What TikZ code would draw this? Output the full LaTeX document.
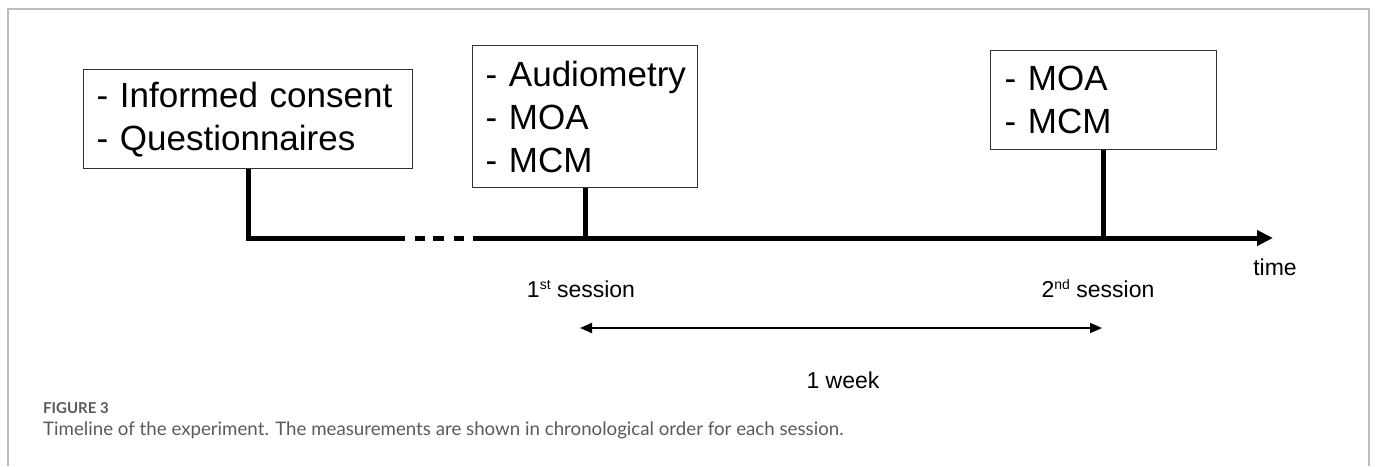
\documentclass[tikz,border=0pt]{standalone}
\usepackage{fontspec}
\setmainfont{Liberation Sans}
\newfontfamily\capfont{Lato}
\usetikzlibrary{arrows.meta}
\definecolor{framegray}{HTML}{BDBDBD}
\definecolor{capgray}{HTML}{5A5A5A}
\definecolor{boxline}{HTML}{333333}
\newcommand{\ordsup}[1]{\raisebox{7.5pt}{\fontsize{14}{14}\selectfont #1}}
\begin{document}
\begin{tikzpicture}[x=1pt,y=1pt,
  box/.style={draw=boxline, line width=1.3pt, fill=white, align=left,
    inner xsep=13pt, inner ysep=0pt, anchor=north west,
    font=\fontsize{35}{43}\selectfont},
  stem/.style={line width=5pt, line cap=butt},
  lbl/.style={font=\fontsize{23}{27}\selectfont, anchor=base},
  captxt/.style={anchor=base west, inner sep=0pt, text=capgray}]
\useasboundingbox (0,0) rectangle (1375,-466);
% outer frame
\draw[framegray, line width=2pt] (8,-466) -- (8,-9) -- (1369,-9) -- (1369,-466);
% boxes
\node[box, text width=303pt, minimum height=99pt] (b1) at (83,-69)
  {- Informed consent\\- Questionnaires};
\node[box, text width=199pt, minimum height=142pt] (b2) at (472,-45)
  {\mbox{- Audiometry}\\- MOA\\- MCM};
\node[box, text width=198pt, inner xsep=14pt, minimum height=99pt] (b3) at (990,-50)
  {- MOA\\- MCM};
% timeline
\coordinate (t0) at (b1.south |- 0,-238);
\coordinate (g1) at (405,-238);
\coordinate (g2) at (473,-238);
\coordinate (tend) at (1273,-238);
\draw[stem, line join=miter] (b1.south) -- (t0) -- (g1);
\draw[stem] (415,-238) -- (425,-238);
\draw[stem] (433,-238) -- (444,-238);
\draw[stem] (454,-238) -- (464,-238);
\draw[stem, -{Triangle[length=16pt,width=15pt]}] (g2) -- (tend);
\draw[stem] (b2.south) -- (b2.south |- t0);
\draw[stem] (b3.south) -- (b3.south |- t0);
% labels
\node[lbl] (l1) at (581,-297) {1\ordsup{st} session};
\node[lbl] (l2) at (1098,-297) {2\ordsup{nd} session};
\node[lbl] (ltime) at (1275,-275) {time};
% one week span
\coordinate (w1) at (580,-328);
\coordinate (w2) at (1102,-328);
\draw[line width=2pt, {Triangle[length=12pt,width=10pt]}-{Triangle[length=12pt,width=10pt]}] (w1) -- (w2);
\node[lbl] (lweek) at (843,-388) {1 week};
% caption
\node[captxt, font=\capfont\bfseries\fontsize{15}{17}\selectfont] (fig) at (43,-413) {FIGURE 3};
\node[captxt, font=\capfont\fontsize{18.7}{22}\selectfont] (cap) at (43,-435)
  {Timeline of the experiment. The measurements are shown in chronological order for each session.};
\end{tikzpicture}
\end{document}
